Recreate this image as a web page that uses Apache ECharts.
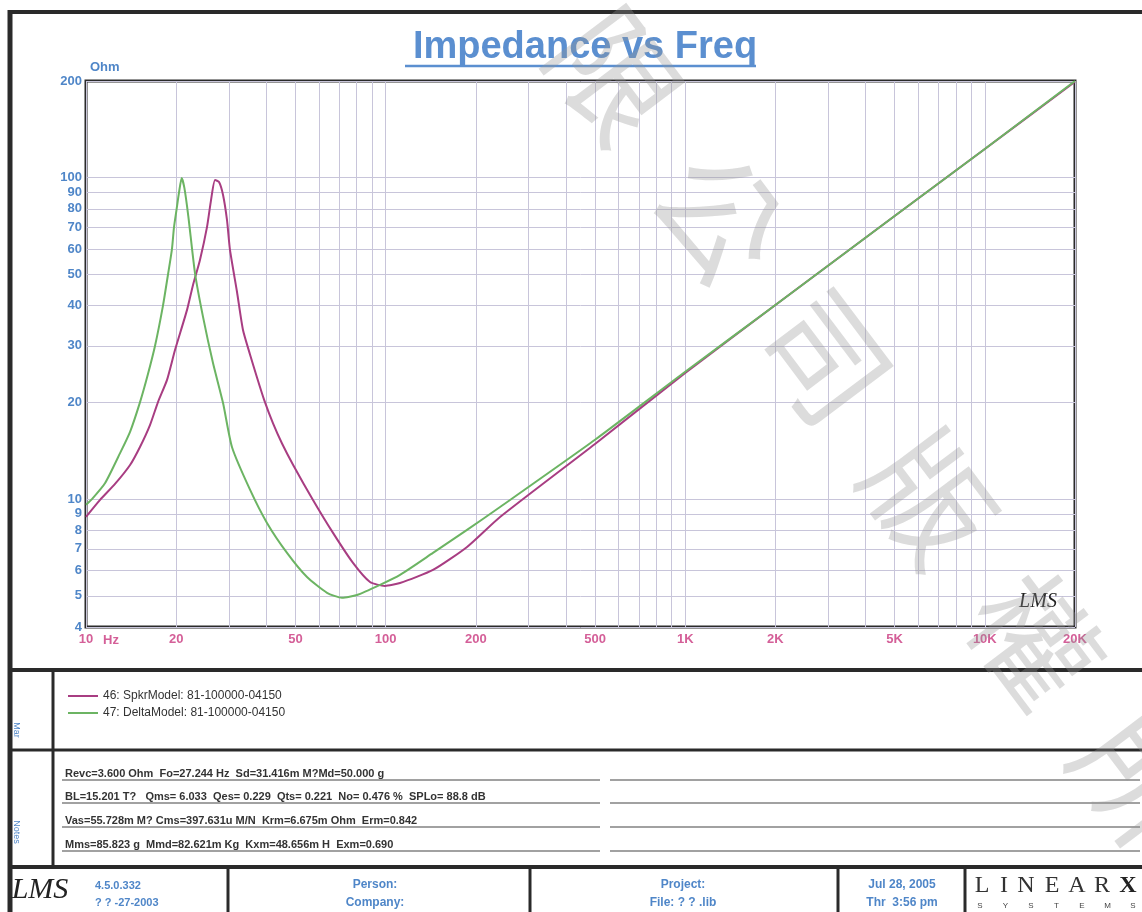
<!DOCTYPE html>
<html><head><meta charset="utf-8">
<script src="https://cdn.jsdelivr.net/npm/echarts@6/dist/echarts.min.js"></script>
<style>html,body{margin:0;padding:0;background:#fff;}#c{width:1142px;height:912px;}</style>
</head><body><div id="c"></div>
<script>
// ---------------- data ----------------
const seriesNames = ['46: SpkrModel: 81-100000-04150', '47: DeltaModel: 81-100000-04150'];
const spkrFreq = [10, 11.14, 12.5, 14.03, 15.14, 16.35, 17.39, 18.64, 19.82, 21.74, 22.76, 24.01, 25.35, 26.14, 26.96, 27.8, 28.67, 29.55, 30.24, 31.92, 33.42, 35.27, 37.22, 39.29, 42.1, 45.11, 49.09, 57.23, 66.76, 77.84, 88.7, 99.5, 111.7, 143.9, 187, 241, 500, 1000, 2000, 5000, 10000, 20000];
const spkrOhm  = [8.8, 9.94, 11.15, 12.77, 14.53, 17.0, 20.05, 23.5, 29.1, 38.8, 46.4, 55.5, 70.3, 85.2, 98.4, 97.0, 88.4, 73.9, 59.6, 44.1, 33.6, 28.2, 23.9, 20.4, 17.2, 14.9, 12.8, 9.94, 7.85, 6.33, 5.52, 5.37, 5.48, 6.02, 7.1, 8.8, 14.85, 24.7, 40.2, 76.0, 122.9, 199];
const deltaFreq = [10, 10.47, 11.57, 12.99, 14.03, 15.14, 16.1, 17.0, 18.07, 18.78, 19.36, 19.66, 20.07, 20.44, 20.86, 21.3, 21.95, 23.11, 24.58, 26.54, 28.67, 30.72, 35.27, 40.19, 46.88, 54.66, 63.76, 71.52, 80.26, 95.8, 111.7, 143.9, 187, 241, 500, 1000, 2000, 5000, 10000, 20000];
const deltaOhm  = [9.6, 10.0, 11.2, 13.9, 16.2, 20.0, 24.5, 30.0, 40.0, 50.0, 60.0, 70.0, 80.0, 90.0, 99.8, 93.0, 76.0, 50.5, 36.9, 26.5, 19.9, 14.5, 10.7, 8.43, 6.8, 5.72, 5.11, 4.93, 5.03, 5.41, 5.81, 6.8, 8.02, 9.45, 15.3, 24.9, 40.2, 76.0, 122.9, 200];
const xRange = [10, 20000];
const yRange = [4, 200];
const xGridValues = [10,20,30,40,50,60,70,80,90,100,200,300,400,500,600,700,800,900,1000,2000,3000,4000,5000,6000,7000,8000,9000,10000,20000];
const xLabelValues = [10, 20, 50, 100, 200, 500, 1000, 2000, 5000, 10000, 20000];
const xLabelTexts  = ['10', '20', '50', '100', '200', '500', '1K', '2K', '5K', '10K', '20K'];
const yGridValues = [4,5,6,7,8,9,10,20,30,40,50,60,70,80,90,100,200];
const yLabelValues = [4,5,6,7,8,9,10,20,30,40,50,60,70,80,90,100,200];
const yLabelTexts  = ['4','5','6','7','8','9','10','20','30','40','50','60','70','80','90','100','200'];
const noteLines = [
  'Revc=3.600 Ohm  Fo=27.244 Hz  Sd=31.416m M?Md=50.000 g',
  'BL=15.201 T?   Qms= 6.033  Qes= 0.229  Qts= 0.221  No= 0.476 %  SPLo= 88.8 dB',
  'Vas=55.728m M? Cms=397.631u M/N  Krm=6.675m Ohm  Erm=0.842',
  'Mms=85.823 g  Mmd=82.621m Kg  Kxm=48.656m H  Exm=0.690'
];
const watermarkChars = ['限', '公', '司', '版', '權', '所', '有'];

// ---------------- helpers ----------------
const L = v => Math.log10(v);
function lookup(vals, texts, v) {
  for (let i = 0; i < vals.length; i++) if (Math.abs(L(vals[i]) - v) < 1e-6) return texts[i];
  return '';
}
const FONT = "'Liberation Sans', Arial, sans-serif";
const BLUE = '#4f86c8';
const PINK = '#d45f98';
const INK = '#2a2a2a';

const gfx = [];
function hline(x1, x2, y, w, c) { gfx.push({type:'rect', shape:{x:x1, y:y - w/2, width:x2 - x1, height:w}, style:{fill:c || INK}, silent:true, z:50}); }
function vline(x, y1, y2, w, c) { gfx.push({type:'rect', shape:{x:x - w/2, y:y1, width:w, height:y2 - y1}, style:{fill:c || INK}, silent:true, z:50}); }
function txt(x, y, s, font, fill, align, valign, extra) {
  const o = {type:'text', x:x, y:y, silent:true, z:60,
    style:{text:s, font:font, fill:fill, textAlign:align || 'left', align:align || 'left',
           textVerticalAlign:valign || 'middle', verticalAlign:valign || 'middle'}};
  if (extra) Object.assign(o, extra);
  gfx.push(o);
}

// frame
hline(8, 1142, 12, 4);
vline(10, 10, 912, 5);
hline(10, 1142, 670, 4);
hline(10, 1142, 750, 3);
hline(10, 1142, 867, 4);
vline(53, 670, 867, 3);
[228, 530, 838, 965].forEach(x => vline(x, 867, 912, 3));

// title underline
hline(405, 756, 66, 2.5, '#5b8fd0');

// "Hz" unit on x axis
txt(111, 640, 'Hz', "bold 13px " + FONT, PINK, 'center', 'middle');
// LMS mark inside plot
txt(1038, 602, 'LMS', "italic 20px 'Liberation Serif', serif", '#222', 'center', 'middle');

// side labels
txt(16, 730, 'Mar', "9px " + FONT, BLUE, 'center', 'middle', {rotation: -Math.PI/2});
txt(16, 832, 'Notes', "9px " + FONT, BLUE, 'center', 'middle', {rotation: -Math.PI/2});

// notes
const noteY = [780, 803, 827, 851];
noteLines.forEach((s, i) => {
  txt(65, noteY[i] - 1, s, "bold 11px " + FONT, '#333', 'left', 'bottom');
  hline(62, 600, noteY[i], 1.2, '#444');
  hline(610, 1140, noteY[i], 1.2, '#444');
});

// footer
txt(40, 890, 'LMS', "italic 30px 'Liberation Serif', serif", '#222', 'center', 'middle');
txt(95, 886, '4.5.0.332', "bold 11px " + FONT, BLUE, 'left', 'middle');
txt(95, 903, '? ? -27-2003', "bold 11px " + FONT, BLUE, 'left', 'middle');
txt(375, 885, 'Person:', "bold 12px " + FONT, BLUE, 'center', 'middle');
txt(375, 903, 'Company:', "bold 12px " + FONT, BLUE, 'center', 'middle');
txt(683, 885, 'Project:', "bold 12px " + FONT, BLUE, 'center', 'middle');
txt(683, 903, 'File: ? ? .lib', "bold 12px " + FONT, BLUE, 'center', 'middle');
txt(902, 885, 'Jul 28, 2005', "bold 12px " + FONT, BLUE, 'center', 'middle');
txt(902, 903, 'Thr  3:56 pm', "bold 12px " + FONT, BLUE, 'center', 'middle');
const logoLetters = ['L', 'I', 'N', 'E', 'A', 'R'];
const logoX = [982, 1004, 1026, 1052, 1077, 1102];
logoLetters.forEach((ch, i) => txt(logoX[i], 886, ch, "24px 'Liberation Serif', serif", '#333', 'center', 'middle'));
txt(1128, 886, 'X', "bold 24px 'Liberation Serif', serif", '#222', 'center', 'middle');
const sysLetters = ['S', 'Y', 'S', 'T', 'E', 'M', 'S'];
sysLetters.forEach((ch, i) => txt(980 + i * 25.5, 906, ch, "8px " + FONT, '#444', 'center', 'middle'));

// watermark
const wmAngle = -53 * Math.PI / 180;
watermarkChars.forEach((ch, i) => {
  gfx.push({type:'text', x: 615 + i * 105, y: 75 + i * 141, rotation: wmAngle, silent:true, z:100,
    style:{text: ch, font: "125px 'Noto Sans CJK TC', sans-serif", fill:'rgba(150,150,150,0.33)',
           textAlign:'center', align:'center', textVerticalAlign:'middle', verticalAlign:'middle'}});
});

// ---------------- chart ----------------
const chart = echarts.init(document.getElementById('c'), null, {renderer:'canvas'});
chart.setOption({
  animation: false,
  backgroundColor: '#ffffff',
  title: {
    text: 'Impedance vs Freq', left: 580, top: 24, textAlign: 'center',
    textStyle: {fontSize: 38, fontWeight: 'bold', color: '#5b8fd0', fontFamily: FONT}
  },
  legend: {
    data: seriesNames, orient: 'vertical', left: 63, top: 685, itemWidth: 30, itemHeight: 2,
    itemGap: 5, icon: 'rect',
    textStyle: {fontSize: 12, color: '#333', fontFamily: FONT}
  },
  grid: {left: 86, right: 67, top: 81, bottom: 285, show: true, borderColor: INK, borderWidth: 3,
         backgroundColor: 'transparent'},
  xAxis: {
    type: 'value', min: L(xRange[0]), max: L(xRange[1]),
    axisLine: {show: false},
    axisTick: {show: false, customValues: xGridValues.map(L)},
    splitLine: {show: true, lineStyle: {color: '#c8c5da', width: 1}},
    axisLabel: {customValues: xLabelValues.map(L), formatter: v => lookup(xLabelValues, xLabelTexts, v),
                color: PINK, fontWeight: 'bold', fontSize: 13, fontFamily: FONT, margin: 6}
  },
  yAxis: {
    type: 'value', min: L(yRange[0]), max: L(yRange[1]),
    name: 'Ohm', nameLocation: 'end', nameGap: 7,
    nameTextStyle: {color: BLUE, fontWeight: 'bold', fontSize: 13, fontFamily: FONT, align: 'left', verticalAlign: 'bottom', padding: [0, 0, 0, 4]},
    axisLine: {show: false},
    axisTick: {show: false, customValues: yGridValues.map(L)},
    splitLine: {show: true, lineStyle: {color: '#c8c5da', width: 1}},
    axisLabel: {customValues: yLabelValues.map(L), formatter: v => lookup(yLabelValues, yLabelTexts, v),
                color: BLUE, fontWeight: 'bold', fontSize: 13, fontFamily: FONT, margin: 4}
  },
  series: [
    {name: seriesNames[0], type: 'line', showSymbol: false, smooth: 0.2,
     color: '#a83d82', lineStyle: {width: 2, color: '#a83d82', join: 'round'},
     data: spkrFreq.map((f, i) => [L(f), L(spkrOhm[i])])},
    {name: seriesNames[1], type: 'line', showSymbol: false, smooth: 0.2,
     color: '#6cb463', lineStyle: {width: 2, color: '#6cb463', join: 'round'},
     data: deltaFreq.map((f, i) => [L(f), L(deltaOhm[i])])}
  ],
  graphic: gfx
});
</script></body></html>
